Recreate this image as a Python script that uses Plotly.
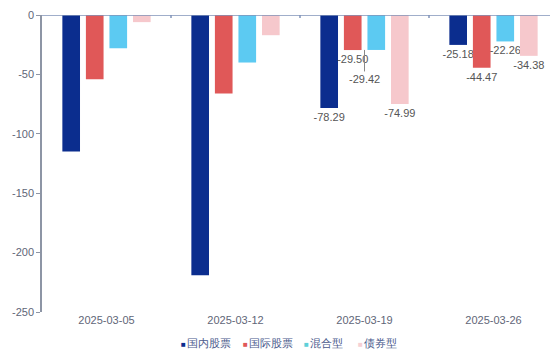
import plotly.graph_objects as go

dates = ["2025-03-05", "2025-03-12", "2025-03-19", "2025-03-26"]
series_names = ["国内股票", "国际股票", "混合型", "债券型"]
domestic = [-115.0, -219.0, -78.29, -25.18]
international = [-54.0, -66.0, -29.50, -44.47]
mixed = [-28.0, -40.0, -29.42, -22.26]
bond = [-6.0, -17.0, -74.99, -34.38]
labels_domestic = ["", "", "-78.29", "-25.18"]
labels_international = ["", "", "-29.50", "-44.47"]
labels_mixed = ["", "", "", "-22.26"]
labels_bond = ["", "", "-74.99", "-34.38"]
y_ticks = [0, -50, -100, -150, -200, -250]

colors = ["#0b2d8e", "#e05858", "#5ccaf2", "#f6c8cc"]
legend_square_colors = ["#0b2d8e", "#e05858", "#5fd0d8", "#f6d0d4"]
legend_x = [0.265, 0.385, 0.503, 0.608]
font_family = "Liberation Sans, Arial, sans-serif"
label_color = "#555555"

fig = go.Figure()
for name, vals, labs, col in zip(series_names,
                                 [domestic, international, mixed, bond],
                                 [labels_domestic, labels_international, labels_mixed, labels_bond],
                                 colors):
    fig.add_trace(go.Bar(
        x=dates, y=vals, name=name, marker=dict(color=col, line=dict(width=0)),
        text=labs, textposition="outside", cliponaxis=False, constraintext="none",
        textfont=dict(size=11, color=label_color, family=font_family),
        showlegend=False,
    ))

# displaced label with leader line for 混合型 on 2025-03-19
fig.add_annotation(x=dates[2], y=mixed[2], xref="x", yref="y",
                   text="-29.42", showarrow=True, arrowhead=0, arrowwidth=1,
                   arrowcolor="#888888", ax=0, ay=29, standoff=0,
                   font=dict(size=11, color=label_color, family=font_family))

# legend row (as text)
for name, col, lx in zip(series_names, legend_square_colors, legend_x):
    fig.add_annotation(
        xref="paper", yref="paper", x=lx, y=-0.078, xanchor="left", yanchor="top",
        text=(f"<span style='color:{col};font-size:8px'>■</span>"
              f"<span style='font-size:5px'>&nbsp;</span>{name}"),
        showarrow=False, font=dict(size=11, color="#4a5a8c", family=font_family))

# zero / category axis line at top
fig.add_shape(type="line", xref="paper", yref="y", x0=0, x1=1, y0=0, y1=0,
              line=dict(color="#8093b8", width=1.5))
for b in [0.5, 1.5, 2.5]:
    fig.add_shape(type="line", xref="x", yref="y", x0=b, x1=b, y0=0, y1=-2.5,
                  line=dict(color="#8093b8", width=1.5))

# page has an 8px body margin, so the figure is sized/offset to compensate
fig.update_layout(
    width=550, height=349,
    margin=dict(l=34, r=0, t=7, b=45, autoexpand=False),
    paper_bgcolor="white", plot_bgcolor="white",
    barmode="group", bargap=0.27, bargroupgap=0.25,
    font=dict(family=font_family, size=11, color="#666666"),
    showlegend=False,
    xaxis=dict(type="category", categoryorder="array", categoryarray=dates,
               range=[-0.5, 3.5], showline=False, ticks="", showgrid=False,
               automargin=False, tickfont=dict(size=11, color="#5f6678")),
    yaxis=dict(range=[-250, 0], tickvals=y_ticks, ticktext=[str(v) for v in y_ticks],
               showgrid=False, zeroline=False, showline=True, linecolor="#8d95a5",
               linewidth=1.5, ticks="outside", ticklen=4, tickcolor="#8d95a5",
               automargin=False, tickfont=dict(size=11, color="#5f6678")),
)

fig.write_html("out.html")
